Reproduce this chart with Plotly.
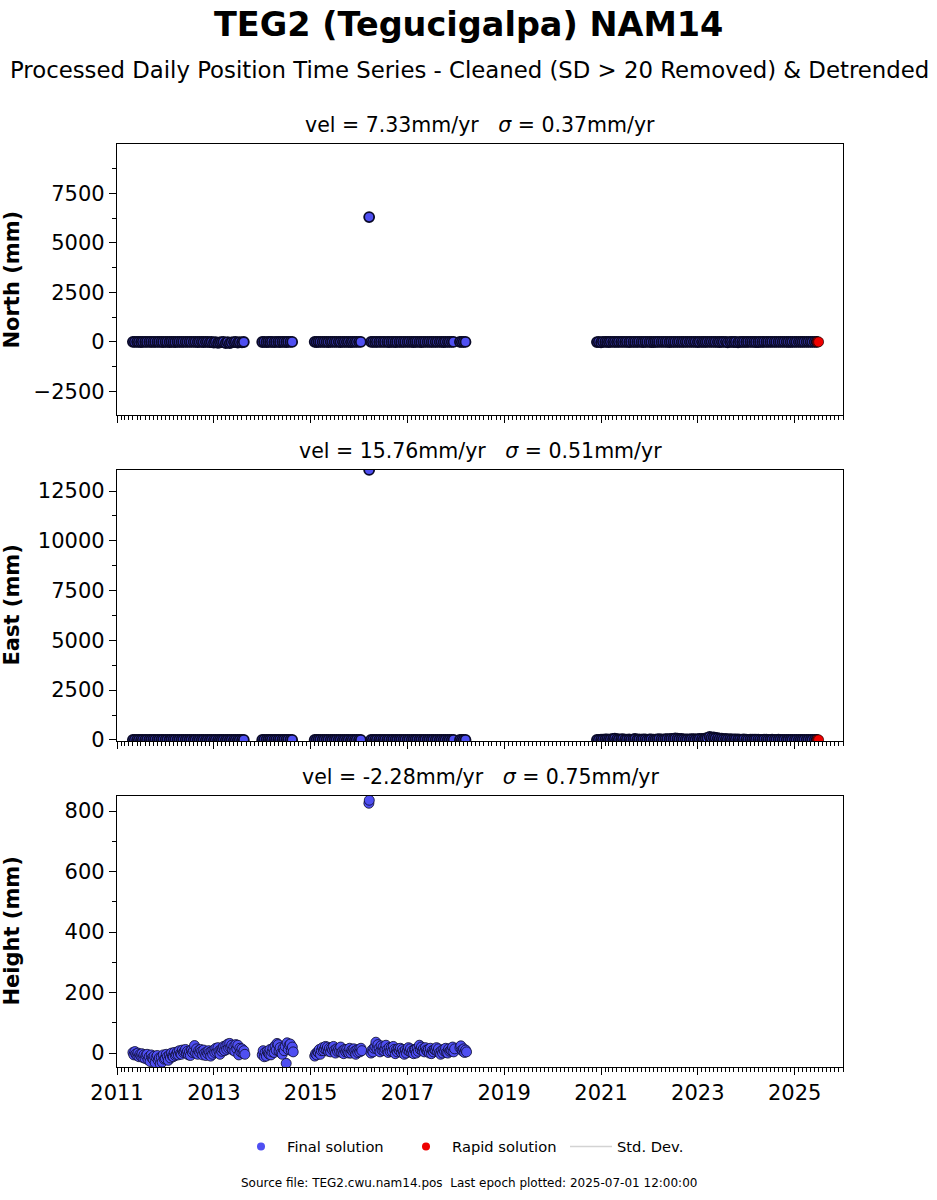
import pandas as pd
import plotly.graph_objects as go
from plotly.subplots import make_subplots

# ---------------- data ----------------
# month ranges holding daily data (North/East drawn twice a month, Height four times a month)
segments = [("2011-05", "2013-08"), ("2014-01", "2014-08"), ("2015-02", "2016-01"),
            ("2016-04", "2017-12"), ("2018-02", "2018-03"), ("2020-12", "2025-06")]
height_segments = segments[:5]   # no height points plotted after 2018
ne_days = [1, 15]
height_days = [1, 8, 16, 23]

north_mm = [
    3, -2, 5, 1, -4, 2, 6, -1, 0, 4, -3, 2, 5, -2,
    1, -6, 3, -1, -4, 2, 0, -5, 6, 1, -3, 4, 2, -2,
    5, 0, -1, 3, -4, 1, 2, -6, 0, 3, -12, -5, -30, -8,
    -45, -20, -10, -3, -55, -15, -60, -25, -8, -2, -35, -12, -20, -6,
    -5, 2, -8, 4, -3, 6, -10, 1, 2, -4, 5, 0, -6, 3, 1, -2,
    4, -5, 2, 0, -3, 4, 1, -5, 2, 6, -2, 0, 3, -4, 5, 1, -3, 2, -6, 4, 0, -2, 3, -1,
    2, 1, -3, 4, 0, -2, 5, -1, 3, -4, 1, 2, -5, 0,
    4, -3, 2, 1, -2, 5, 0, -4, 3, 2, -1, -6, 4, 0,
    -2, 3, 1, -3, 5, -1, 0, 2, -4, 3, 2, -2, 1, 0,
    1, -3, 2, 0,
    -8, -3, -25, 2, 4, -1, -6, 3, 2, 0, -3, 5, 5, -2, -1, 4, -4, 1, 3, -3, 0, 2,
    -2, -5, 6, 1, 1, -4, -5, 3, 3, 0, -2, 4, 4, -1, -6, 2, 2, -3, 0, 5, -3, 1,
    5, -2, -1, 0, 2, 4, -4, -1, 3, -3, 1, 2, -2, 5, 5, 0, -3, -4, 0, 1, 4, -20,
    -1, 3, -5, 0, -20, 2, 2, -3, -3, 6, 6, 0, 0, -4, -4, 1, 1, 3, 3, -2, -2, 5,
    5, -1, -1, 0, 0, 2, 2, -3, -3, 4, 4, -2, -2, 1, 1, -1, -1, 3, 3, 0, 0, 2,
]
east_mm = [
    2, -3, 1, 4, -2, 0, 3, -1, 5, -4, 2, 1, -3, 0,
    4, -2, 1, 3, -5, 2, 0, -1, 3, -2, 1, 4, -3, 0,
    2, 5, -4, 1, 0, 3, -2, -1, 4, 2, -3, 1, 0, -2,
    3, 1, -1, 4, 2, -3, 0, 5, -2, 1, 3, -4, 1, 0,
    -2, 3, 0, -4, 2, 5, -1, 1, 3, -2, 0, 4, -3, 2, 1, -1,
    3, -2, 1, 4, -3, 0, 2, -1, 5, -4, 1, 2, -1, 3, 0, -2, 4, 1, -3, 2, 0, 5, -2, 1,
    -1, 3, 0, -2, 4, 1, -3, 2, 0, 5, -2, 1, 3, -4,
    2, 0, -1, 4, -3, 1, 2, 3, 0, -2, 5, 1, -4, 2,
    1, -1, 3, 0, -2, 4, 1, -3, 2, 5, 0, -1, 3, 2,
    0, -2, 1, 3,
    5, 2, 10, 15, 20, 25, 15, 30, 45, 60, 35, 20, 25, 40, 10, 15, 20, 5, 30, 45, 15, 20,
    10, 25, 25, 5, 20, 30, 15, 10, 30, 40, 25, 15, 40, 35, 35, 50, 55, 70, 65, 45, 45, 30,
    30, 20, 25, 35, 35, 20, 40, 50, 50, 35, 70, 90, 150, 110, 120, 95, 85, 60, 60, 40, 45, 30,
    35, 20, 25, 30, 20, 10, 15, 25, 10, 5, 15, 8, 8, 12, 12, 3, 5, 10, 10, 4, 6, 8,
    3, 0, 8, 5, 4, 2, 2, 6, 6, 1, 3, 4, 5, 0, 0, 3, 4, 1, 2, -1, 1, 2,
]
height_mm = [
    2, -6, 5, -3, -8, 0, -12, -4, -10, -2, -15, -6, -18, -8, -4, -22,
    -12, -28, -6, -16, -20, -10, -32, -14, -8, -24, -16, -36, -14, -30, -6, -20,
    -18, -4, -12, -24, -6, -16, 0, -10, -12, 2, -8, -4, 4, -6, 8, -2,
    -4, 10, 2, 6, 12, 0, 6, -6, 4, -8, 10, 2, 8, 25, 0, 14,
    -4, 8, 2, 12, 6, -6, 10, 0, -8, 4, -2, 8, 2, -10, 6, -4,
    10, 2, 16, 4, 18, 6, -4, 12, 6, 14, 22, 8, 24, 12, 30, 16,
    32, 18, 26, 10, 22, 6, 28, 14, 26, -6, 16, 4, 14, 0, 8, -4,
    -6, 8, -12, 2, -10, 6, 0, -4, 12, -6, 4, 16, 2, 24, 10, 32,
    28, 6, 18, 0, -4, 16, 8, 22, -34, 34, 12, 26, 30, 8, 20, 4,
    -10, -2, -6, 4, 2, 12, -4, 8, 18, 8, 14, 22, 12, 20, 6, 16,
    4, 16, 10, 22, 10, 0, 14, 6, 14, 6, 20, 2, 8, -2, 12, 4,
    12, 4, 0, 16, 0, 10, 6, 14, 6, -4, 10, 2, 12, 4, 16, 8,
    0, 10, 4, 16, 22, 36, 14, 28, 16, 4, 24, 10, 20, 8, 14, 26,
    12, 2, 18, 6, 18, 6, 22, 12, -2, 10, 4, 14, 8, 16, 2, 12,
    4, -4, 10, 0, 10, 18, 6, 14, 2, 8, -2, 12, 12, 0, 16, 6,
    26, 12, 20, 8, 14, 4, 18, 10, 6, 12, 0, 16, -2, 8, 4, 12,
    10, 18, 6, 14, 2, -4, 8, 0, 12, 6, 16, 2, 0, 14, 6, 10,
    8, 20, 4, 14,
    18, 24, 10, 6, 14, 2, 10, 4,
]

# outlier epoch (final solution)
outlier_dates = ["2016-03-18"]
outlier_north = [6300]
outlier_east = [13560]
outlier_h_dates = ["2016-03-16", "2016-03-19"]
outlier_height = [826, 836]

# rapid solutions at the end of the series
rapid_dates = ["2025-06-20", "2025-06-25", "2025-07-01"]
rapid_north = [2, -3, 1]
rapid_east = [3, 1, 4]

std_dev_mm = {"north": 4, "east": 4, "height": 8}

titles = ["vel = 7.33mm/yr\u00a0\u00a0\u00a0<i>σ</i> = 0.37mm/yr",
          "vel = 15.76mm/yr\u00a0\u00a0\u00a0<i>σ</i> = 0.51mm/yr",
          "vel = -2.28mm/yr\u00a0\u00a0\u00a0<i>σ</i> = 0.75mm/yr"]
ylabels = ["North (mm)", "East (mm)", "Height (mm)"]
yranges = [[-3690, 9990], [-55, 13555], [-46, 850]]
ytickvals = [[-2500, 0, 2500, 5000, 7500], [0, 2500, 5000, 7500, 10000, 12500], [0, 200, 400, 600, 800]]
yticktext = [["\u22122500", "0", "2500", "5000", "7500"],
             ["0", "2500", "5000", "7500", "10000", "12500"],
             ["0", "200", "400", "600", "800"]]
yminor = [1250, 1250, 100]


# ---------------- build dates ----------------
def month_dates(segs, days):
    out = []
    for s, e in segs:
        for m in pd.date_range(s + "-01", e + "-01", freq="MS"):
            out += [m + pd.Timedelta(days=d - 1) for d in days]
    return out


ne_dates = month_dates(segments, ne_days)
h_dates = month_dates(height_segments, height_days)
assert len(ne_dates) == len(north_mm) == len(east_mm), (len(ne_dates), len(north_mm), len(east_mm))
assert len(h_dates) == len(height_mm), (len(h_dates), len(height_mm))

BLUE = "#4f4ff2"
RED = "#ee0000"
GRAY = "#d3d3d3"
FONT = "DejaVu Sans"
MSIZE = 10
EDGE_W = [1.8, 1.8, 0.8]

fig = make_subplots(rows=3, cols=1, shared_xaxes=True)

final_x = [ne_dates + [pd.Timestamp(d) for d in outlier_dates]] * 2 + \
          [h_dates + [pd.Timestamp(d) for d in outlier_h_dates]]
final_y = [north_mm + outlier_north, east_mm + outlier_east, height_mm + outlier_height]
keys = ["north", "east", "height"]
rapid_y = [rapid_north, rapid_east, None]

for i in range(3):
    fig.add_trace(go.Scatter(
        x=final_x[i], y=final_y[i], mode="markers", name="Final solution",
        showlegend=False, legendgroup="final",
        marker=dict(color=BLUE, size=MSIZE, line=dict(color="#0a0a28", width=EDGE_W[i])),
        error_y=dict(type="constant", value=std_dev_mm[keys[i]], color=GRAY, thickness=1.2, width=0),
    ), row=i + 1, col=1)
    if rapid_y[i] is not None:
        fig.add_trace(go.Scatter(
            x=rapid_dates, y=rapid_y[i], mode="markers", name="Rapid solution",
            showlegend=False, legendgroup="rapid",
            marker=dict(color=RED, size=MSIZE, line=dict(color="black", width=0.6)),
            error_y=dict(type="constant", value=std_dev_mm[keys[i]], color=GRAY, thickness=1.2, width=0),
        ), row=i + 1, col=1)

# legend entries (markers without edges, as in the reference legend)
fig.add_trace(go.Scatter(x=[None], y=[None], mode="markers", name="Final solution", legendgroup="final",
                         marker=dict(color=BLUE, size=8)), row=3, col=1)
fig.add_trace(go.Scatter(x=[None], y=[None], mode="markers", name="Rapid solution", legendgroup="rapid",
                         marker=dict(color=RED, size=8)), row=3, col=1)
fig.add_trace(go.Scatter(x=[None], y=[None], mode="lines", name="Std. Dev.",
                         line=dict(color=GRAY, width=1.5)), row=3, col=1)

# ---------------- layout (page pixel coords; body margin removed below) ----------------
W, H = 937, 1200
L, R, T, B = 117, 843, 144, 1067
plot_h = B - T
panels = [(144, 415), (470, 741), (796, 1067)]


def py(p):
    return (B - p) / plot_h


def px(p):
    return (p - L) / (R - L)


for i, (top, bot) in enumerate(panels):
    n = "" if i == 0 else str(i + 1)
    fig.layout["yaxis" + n].update(
        domain=[py(bot), py(top)], range=yranges[i], tickmode="array",
        tickvals=ytickvals[i], ticktext=yticktext[i], ticks="outside", ticklen=7, tickwidth=1.3,
        tickcolor="black", showline=True, mirror=True, linecolor="black", linewidth=1.3,
        showgrid=False, zeroline=False, tickfont=dict(family=FONT, size=21, color="black"),
        minor=dict(dtick=yminor[i], tick0=0, ticks="outside", ticklen=4, tickwidth=1,
                   tickcolor="black", showgrid=False),
    )
    fig.layout["xaxis" + n].update(
        type="date", range=["2011-01-01", "2026-01-01"], tick0="2011-01-01", dtick="M24",
        tickformat="%Y", ticks="outside", ticklen=7, tickwidth=1.3, tickcolor="black",
        showline=True, mirror=True, linecolor="black", linewidth=1.3, showgrid=False, zeroline=False,
        tickfont=dict(family=FONT, size=21, color="black"),
        minor=dict(dtick="M1", ticks="outside", ticklen=4, tickwidth=1, tickcolor="black", showgrid=False),
    )
    fig.add_annotation(text=titles[i], xref="paper", yref="paper", x=0.5, y=py(top - 19),
                       xanchor="center", yanchor="middle", showarrow=False,
                       font=dict(family=FONT, size=20.5, color="black"))
    fig.add_annotation(text="<b>" + ylabels[i] + "</b>", xref="paper", yref="paper",
                       x=px(11), y=py((top + bot) / 2), xanchor="center", yanchor="middle",
                       textangle=-90, showarrow=False, font=dict(family=FONT, size=21, color="black"))

fig.add_annotation(text="<b>TEG2 (Tegucigalpa) NAM14</b>", xref="paper", yref="paper",
                   x=px(468), y=py(24), xanchor="center", yanchor="middle", showarrow=False,
                   font=dict(family=FONT, size=33.5, color="black"))
fig.add_annotation(text="Processed Daily Position Time Series - Cleaned (SD > 20 Removed) & Detrended",
                   xref="paper", yref="paper", x=px(469), y=py(70), xanchor="center", yanchor="middle",
                   showarrow=False, font=dict(family=FONT, size=22.8, color="black"))
fig.add_annotation(text="Source file: TEG2.cwu.nam14.pos  Last epoch plotted: 2025-07-01 12:00:00",
                   xref="paper", yref="paper", x=px(469), y=py(1183), xanchor="center", yanchor="middle",
                   showarrow=False, font=dict(family=FONT, size=12, color="black"))

fig.update_layout(
    width=W, height=H, paper_bgcolor="white", plot_bgcolor="white",
    margin=dict(l=L, r=W - R, t=T, b=H - B, pad=0),
    font=dict(family=FONT, color="black"),
    showlegend=True,
    legend=dict(orientation="h", x=px(235), y=py(1147), xanchor="left", yanchor="middle",
                font=dict(family=FONT, size=14.7, color="black"), bgcolor="rgba(0,0,0,0)",
                itemwidth=42, entrywidth=108, entrywidthmode="pixels", tracegroupgap=0,
                traceorder="normal"),
)

fig.write_html("out.html", config={"displayModeBar": False},
               post_script="document.body.style.margin='0';document.body.style.padding='0';")
